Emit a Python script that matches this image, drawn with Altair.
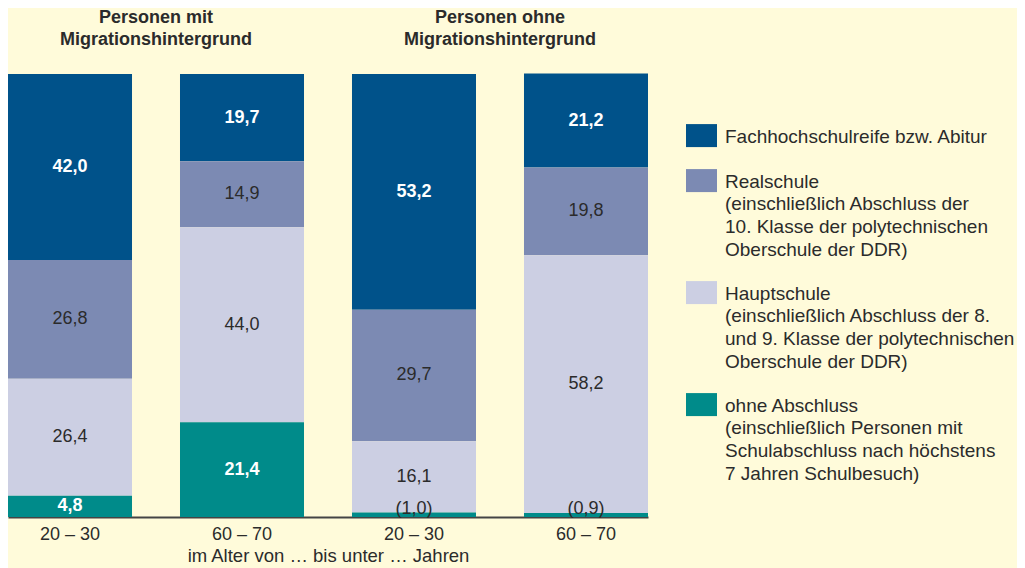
import altair as alt
import pandas as pd

bars = ["mit|20 – 30", "mit|60 – 70", "ohne|20 – 30", "ohne|60 – 70"]
categories = [
    "Fachhochschulreife bzw. Abitur",
    "Realschule|(einschließlich Abschluss der|10. Klasse der polytechnischen|Oberschule der DDR)",
    "Hauptschule|(einschließlich Abschluss der 8.|und 9. Klasse der polytechnischen|Oberschule der DDR)",
    "ohne Abschluss|(einschließlich Personen mit|Schulabschluss nach höchstens|7 Jahren Schulbesuch)",
]
colors = ["#00528A", "#7C8AB3", "#CCCFE3", "#008B8A"]
abitur = [42.0, 19.7, 53.2, 21.2]
realschule = [26.8, 14.9, 29.7, 19.8]
hauptschule = [26.4, 44.0, 16.1, 58.2]
ohne = [4.8, 21.4, 1.0, 0.9]
group_titles = ["Personen mit|Migrationshintergrund", "Personen ohne|Migrationshintergrund"]
group_anchor = ["mit|20 – 30", "ohne|20 – 30"]
x_title = "im Alter von … bis unter … Jahren"

series = [abitur, realschule, hauptschule, ohne]
rows = []
for k, (cat, vals) in enumerate(zip(categories, series)):
    for b, v in zip(bars, vals):
        rows.append({"bar": b, "cat": cat, "value": v, "ord": 3 - k,
                     "dark": (k in (0, 3)) and v >= 2})
df = pd.DataFrame(rows)
tdf = pd.DataFrame({"bar": group_anchor, "title": group_titles})

TXT = "#2B2B2B"

xenc = alt.X(
    "bar:N",
    sort=bars,
    scale=alt.Scale(domain=bars, paddingInner=0.279, paddingOuter=0),
    axis=alt.Axis(
        title=x_title,
        labelExpr="split(datum.label,'|')[1]",
        ticks=False,
        domainColor="#444444",
        domainWidth=2,
        labelFontSize=18,
        labelColor=TXT,
        labelPadding=8,
        labelAngle=0,
        titleFontSize=18.5,
        titleFontWeight="normal",
        titleColor=TXT,
        titlePadding=3,
    ),
)

yscale = alt.Scale(domain=[0, 100], nice=False)

bar_layer = alt.Chart(df).mark_bar().encode(
    x=xenc,
    y=alt.Y("value:Q", stack="zero", scale=yscale, axis=None),
    color=alt.Color(
        "cat:N",
        scale=alt.Scale(domain=categories, range=colors),
        legend=alt.Legend(
            title=None,
            orient="none",
            legendX=678,
            legendY=38,
            padding=0,
            labelExpr="split(datum.label,'|')",
            symbolType="M-1,-0.22L1,-0.22L1,1.264L-1,1.264Z",
            symbolSize=961,
            symbolStrokeWidth=0,
            symbolOpacity=1,
            labelFontSize=19,
            labelColor=TXT,
            labelOffset=8,
            labelBaseline="top",
            labelLimit=400,
            rowPadding=9,
        ),
    ),
    order=alt.Order("ord:Q", sort="ascending"),
)

text_base = alt.Chart(df).transform_stack(
    stack="value", groupby=["bar"], as_=["y0", "y1"],
    sort=[alt.SortField("ord", order="ascending")],
).transform_calculate(
    mid="datum.value < 2 ? 1.7 : (datum.y0 + datum.y1) / 2",
    lab="datum.value < 2 ? '(' + replace(format(datum.value, '.1f'), '.', ',') + ')' : replace(format(datum.value, '.1f'), '.', ',')",
)

light_text = text_base.transform_filter("!datum.dark").mark_text(
    fontSize=18, color=TXT, baseline="middle"
).encode(x=alt.X("bar:N", sort=bars), y=alt.Y("mid:Q", scale=yscale), text="lab:N")

dark_text = text_base.transform_filter("datum.dark").mark_text(
    fontSize=18, color="white", fontWeight="bold", baseline="middle"
).encode(x=alt.X("bar:N", sort=bars), y=alt.Y("mid:Q", scale=yscale), text="lab:N")

titles = alt.Chart(tdf).transform_calculate(
    t="split(datum.title, '|')"
).mark_text(
    fontSize=18, fontWeight="bold", color=TXT, dx=86, baseline="middle", lineHeight=22
).encode(x=alt.X("bar:N", sort=bars), y=alt.value(-56), text="t:N")

chart = alt.layer(bar_layer, light_text, dark_text, titles).properties(
    width=640,
    height=443,
    autosize=alt.AutoSizeParams(type="none"),
    padding={"left": 0, "top": 66, "right": 369, "bottom": 52},
).configure(
    background="#FFFBDA",
    font="Liberation Sans",
    style={"guide-label": {"lineHeight": 22.7}},
).configure_view(stroke=None)

chart.save("out.html", embed_options={"renderer": "svg", "actions": False})
